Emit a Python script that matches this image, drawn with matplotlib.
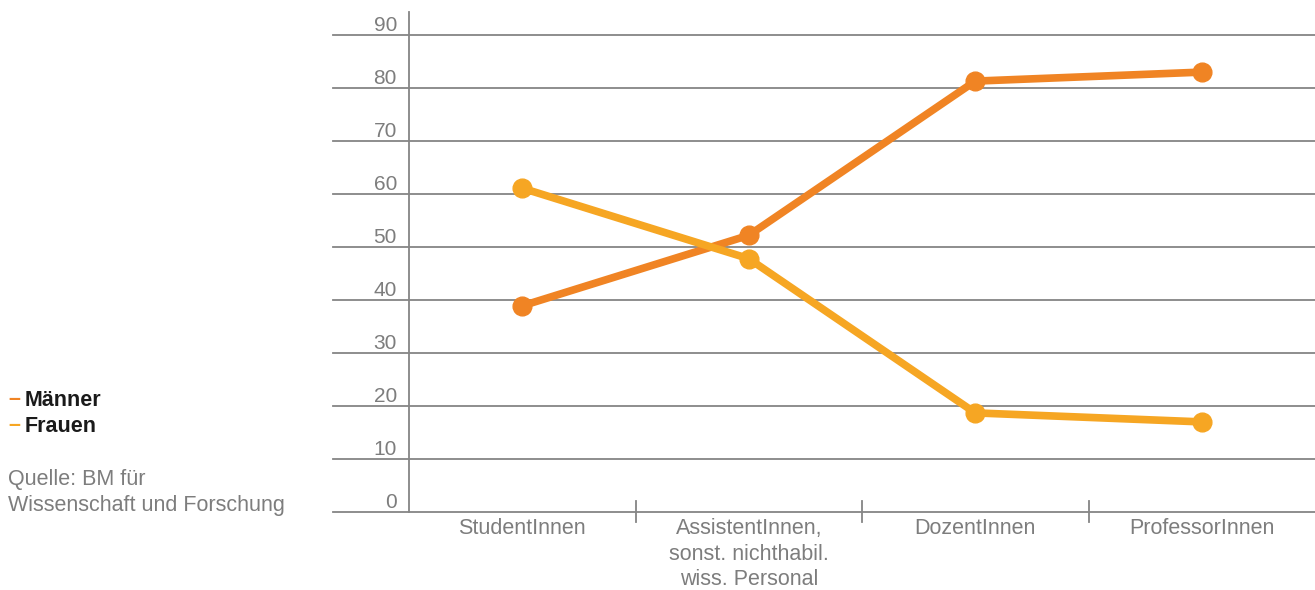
import numpy as np
import matplotlib
matplotlib.use("Agg")
import matplotlib.pyplot as plt

plt.rcParams['font.family'] = ['Liberation Sans', 'DejaVu Sans']

kategorien = ["StudentInnen",
              "AssistentInnen,\nsonst. nichthabil.\nwiss. Personal",
              "DozentInnen",
              "ProfessorInnen"]
maenner = [38.9, 52.2, 81.3, 83.0]
frauen = [61.1, 47.8, 18.7, 17.0]
y_ticks = [0, 10, 20, 30, 40, 50, 60, 70, 80, 90]

c_maenner = "#F08424"
c_frauen = "#F6A623"
grau = "#7d7d7d"
linie = "#858585"

fig = plt.figure(figsize=(13.15, 5.9), dpi=100)
ax = fig.add_axes([409 / 1315, 78 / 590, 906 / 1315, 500 / 590])

x = np.arange(len(kategorien))
ax.set_xlim(-0.5, len(kategorien) - 0.5)
ax.set_ylim(0, 94.34)

# horizontal grid, reaching out left of the y axis
for v in y_ticks:
    ax.plot([-76 / 906, 1], [v, v], transform=ax.get_yaxis_transform(),
            color=linie, lw=1.3, clip_on=False, zorder=1)
    ax.text(-12 / 906, v + 0.8, str(v), transform=ax.get_yaxis_transform(),
            ha="right", va="baseline", fontsize=15, color=grau)

# separators between categories
for b in x[:-1] + 0.5:
    ax.plot([b, b], [-1.9, 2.1], color=linie, lw=1.3, clip_on=False, zorder=1)

for i, k in enumerate(kategorien):
    ax.text(i, -1.2, k, ha="center", va="top", fontsize=15.5, color=grau,
            linespacing=1.28)

ax.plot(x, maenner, color=c_maenner, lw=5.5, marker="o", ms=13.5,
        solid_capstyle="round", zorder=3)
ax.plot(x, frauen, color=c_frauen, lw=5.5, marker="o", ms=13.5,
        solid_capstyle="round", zorder=3)

for s in ["top", "right", "bottom"]:
    ax.spines[s].set_visible(False)
ax.spines["left"].set_color(linie)
ax.spines["left"].set_linewidth(1.3)
ax.set_xticks([])
ax.set_yticks([])

# legend and source
fig.text(8 / 1315, 1 - 400 / 590, "–", color=c_maenner, fontsize=15.5,
         fontweight="bold", va="center")
fig.text(25 / 1315, 1 - 400 / 590, "Männer", color="#1a1a1a", fontsize=15.5,
         fontweight="bold", va="center")
fig.text(8 / 1315, 1 - 426 / 590, "–", color=c_frauen, fontsize=15.5,
         fontweight="bold", va="center")
fig.text(25 / 1315, 1 - 426 / 590, "Frauen", color="#1a1a1a", fontsize=15.5,
         fontweight="bold", va="center")
fig.text(8 / 1315, 1 - 480 / 590, "Quelle: BM für", color=grau, fontsize=15.5,
         va="center")
fig.text(8 / 1315, 1 - 506 / 590, "Wissenschaft und Forschung", color=grau,
         fontsize=15.5, va="center")

fig.savefig("out.png", dpi=100)
